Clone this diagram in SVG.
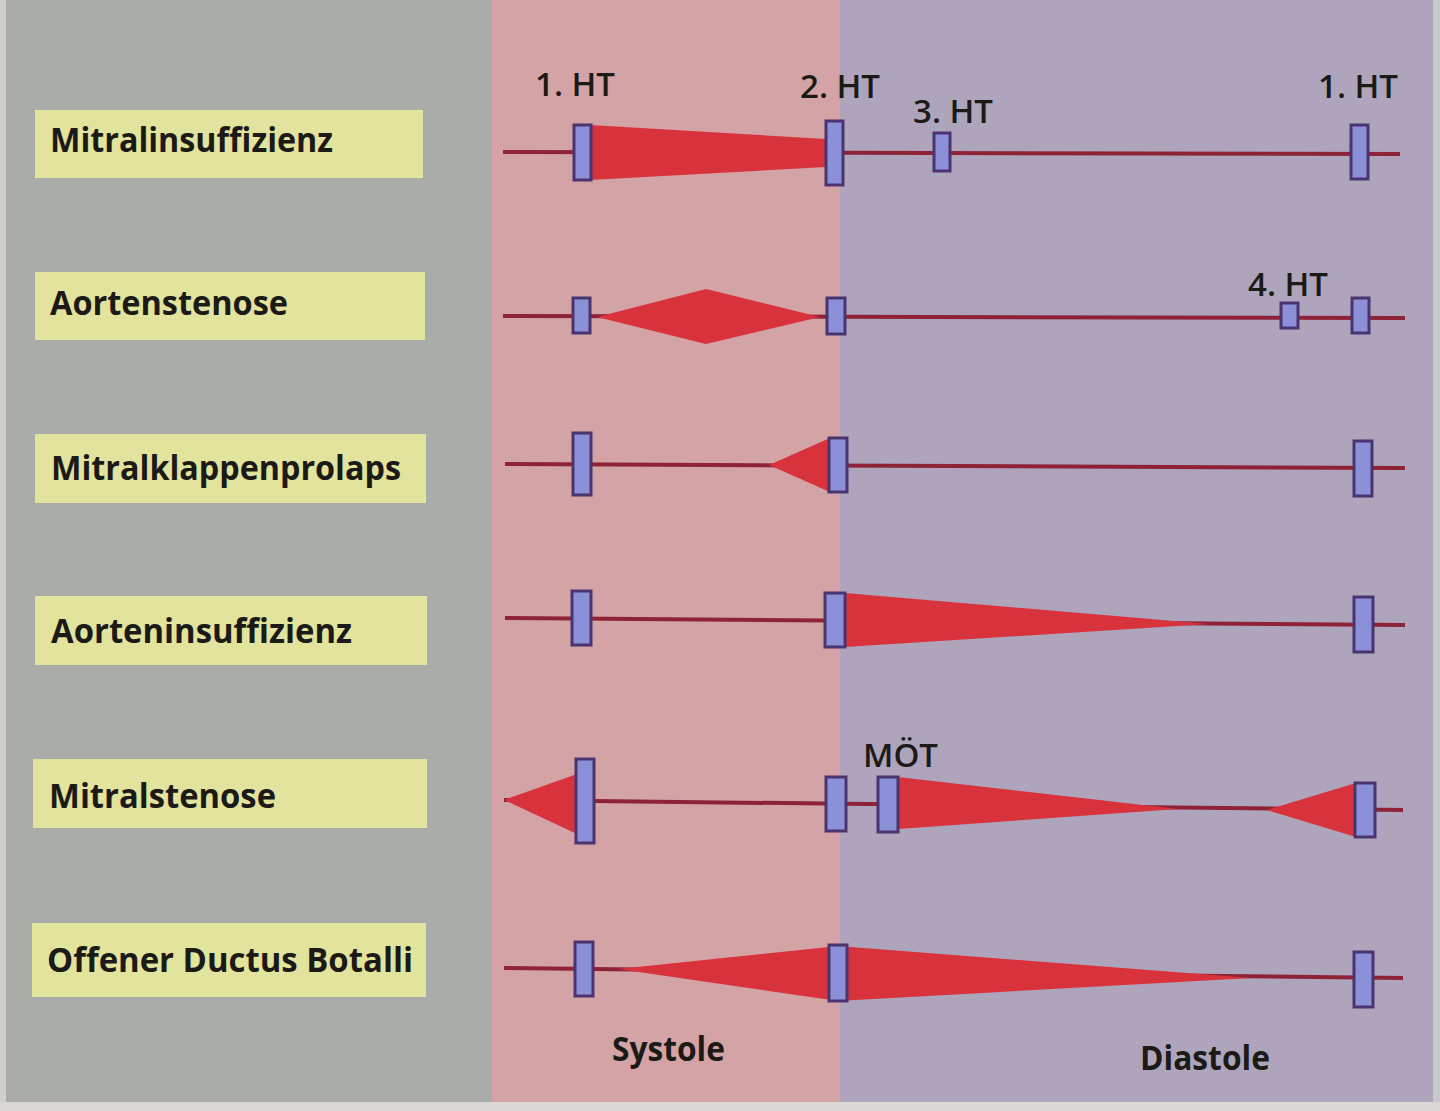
<svg xmlns="http://www.w3.org/2000/svg" width="1440" height="1111" viewBox="0 0 1440 1111">
<defs>
<style>
.lbl{fill:#e2e39c}
.lt{font-family:"Open Sans","Liberation Sans",sans-serif;font-weight:700;font-size:34px;fill:#1c1a17}
.ht{font-family:"Open Sans","Liberation Sans",sans-serif;font-weight:600;font-size:33px;fill:#1c1a17}
.ph{font-family:"Open Sans","Liberation Sans",sans-serif;font-weight:700;font-size:34px;fill:#1c1a17}
.ln{stroke:#8e2236;stroke-width:4;fill:none}
.mur{fill:#d8333d}
.mk{fill:#8c90d8;stroke:#4a3470;stroke-width:3}
</style>
</defs>
<g id="background">
<rect x="0" y="0" width="1440" height="1111" fill="#a9aca8"/>
<rect x="492" y="0" width="348" height="1111" fill="#d3a3a6"/>
<rect x="840" y="0" width="600" height="1111" fill="#aea5bd"/>
<rect x="0" y="0" width="6" height="1111" fill="#cfd0cc"/>
<rect x="1433" y="0" width="7" height="1111" fill="#c9c8cc"/>
<rect x="0" y="1102" width="1440" height="9" fill="#d9d8d4"/>
</g>
<g id="labels">
<g id="n-mitralinsuffizienz"><rect class="lbl" x="35" y="110" width="388" height="68"/><text class="lt" x="50" y="152" textLength="283" lengthAdjust="spacingAndGlyphs">Mitralinsuffizienz</text></g>
<g id="n-aortenstenose"><rect class="lbl" x="35" y="272" width="390" height="68"/><text class="lt" x="50" y="315" textLength="238" lengthAdjust="spacingAndGlyphs">Aortenstenose</text></g>
<g id="n-mitralklappenprolaps"><rect class="lbl" x="35" y="434" width="391" height="69"/><text class="lt" x="51" y="480" textLength="350" lengthAdjust="spacingAndGlyphs">Mitralklappenprolaps</text></g>
<g id="n-aorteninsuffizienz"><rect class="lbl" x="35" y="596" width="392" height="69"/><text class="lt" x="51" y="643" textLength="301" lengthAdjust="spacingAndGlyphs">Aorteninsuffizienz</text></g>
<g id="n-mitralstenose"><rect class="lbl" x="33" y="759" width="394" height="69"/><text class="lt" x="49" y="808" textLength="227" lengthAdjust="spacingAndGlyphs">Mitralstenose</text></g>
<g id="n-ductus"><rect class="lbl" x="32" y="923" width="394" height="74"/><text class="lt" x="47" y="972" textLength="366" lengthAdjust="spacingAndGlyphs">Offener Ductus Botalli</text></g>
</g>
<g id="connectors">
<line class="ln" x1="503" y1="152" x2="1400" y2="154"/>
<line class="ln" x1="503" y1="316" x2="1405" y2="318"/>
<line class="ln" x1="505" y1="464" x2="1405" y2="468"/>
<line class="ln" x1="505" y1="618" x2="1405" y2="625"/>
<line class="ln" x1="504" y1="800" x2="1403" y2="810"/>
<line class="ln" x1="504" y1="968" x2="1403" y2="978"/>
</g>
<g id="murmurs">
<polygon class="mur" points="590,125 590,180 826,167 826,139"/>
<polygon class="mur" points="597,317 706,289 820,317 706,344"/>
<polygon class="mur" points="769,465 830,438 830,492"/>
<polygon class="mur" points="845,593 845,647 1209,624"/>
<polygon class="mur" points="504,800 577,774 577,834"/>
<polygon class="mur" points="898,777 898,829 1178,809"/>
<polygon class="mur" points="1267,810 1356,783 1356,837"/>
<polygon class="mur" points="618,969 838,946 1252,978 838,1001"/>
</g>
<g id="heart-sounds">
<rect class="mk" x="574" y="125" width="17" height="55"/>
<rect class="mk" x="826" y="121" width="17" height="64"/>
<rect class="mk" x="934" y="133" width="16" height="38"/>
<rect class="mk" x="1351" y="125" width="17" height="54"/>
<rect class="mk" x="573" y="298" width="17" height="35"/>
<rect class="mk" x="827" y="298" width="18" height="36"/>
<rect class="mk" x="1281" y="303" width="17" height="25"/>
<rect class="mk" x="1352" y="298" width="17" height="35"/>
<rect class="mk" x="573" y="433" width="18" height="62"/>
<rect class="mk" x="829" y="438" width="18" height="54"/>
<rect class="mk" x="1354" y="441" width="18" height="55"/>
<rect class="mk" x="572" y="591" width="19" height="54"/>
<rect class="mk" x="825" y="593" width="20" height="54"/>
<rect class="mk" x="1354" y="597" width="19" height="55"/>
<rect class="mk" x="576" y="759" width="18" height="84"/>
<rect class="mk" x="826" y="777" width="20" height="54"/>
<rect class="mk" x="878" y="777" width="20" height="55"/>
<rect class="mk" x="1355" y="783" width="20" height="54"/>
<rect class="mk" x="575" y="942" width="18" height="54"/>
<rect class="mk" x="829" y="945" width="18" height="56"/>
<rect class="mk" x="1354" y="952" width="19" height="55"/>
</g>
<g id="sound-labels">
<text class="ht" x="535" y="96" textLength="80" lengthAdjust="spacingAndGlyphs">1. HT</text>
<text class="ht" x="800" y="98" textLength="80" lengthAdjust="spacingAndGlyphs">2. HT</text>
<text class="ht" x="913" y="123" textLength="80" lengthAdjust="spacingAndGlyphs">3. HT</text>
<text class="ht" x="1318" y="98" textLength="80" lengthAdjust="spacingAndGlyphs">1. HT</text>
<text class="ht" x="1248" y="296" textLength="80" lengthAdjust="spacingAndGlyphs">4. HT</text>
<text class="ht" x="863" y="767" textLength="75" lengthAdjust="spacingAndGlyphs">MÖT</text>
</g>
<g id="phases">
<text class="ph" x="612" y="1061" textLength="113" lengthAdjust="spacingAndGlyphs">Systole</text>
<text class="ph" x="1140" y="1070" textLength="130" lengthAdjust="spacingAndGlyphs">Diastole</text>
</g>
</svg>
